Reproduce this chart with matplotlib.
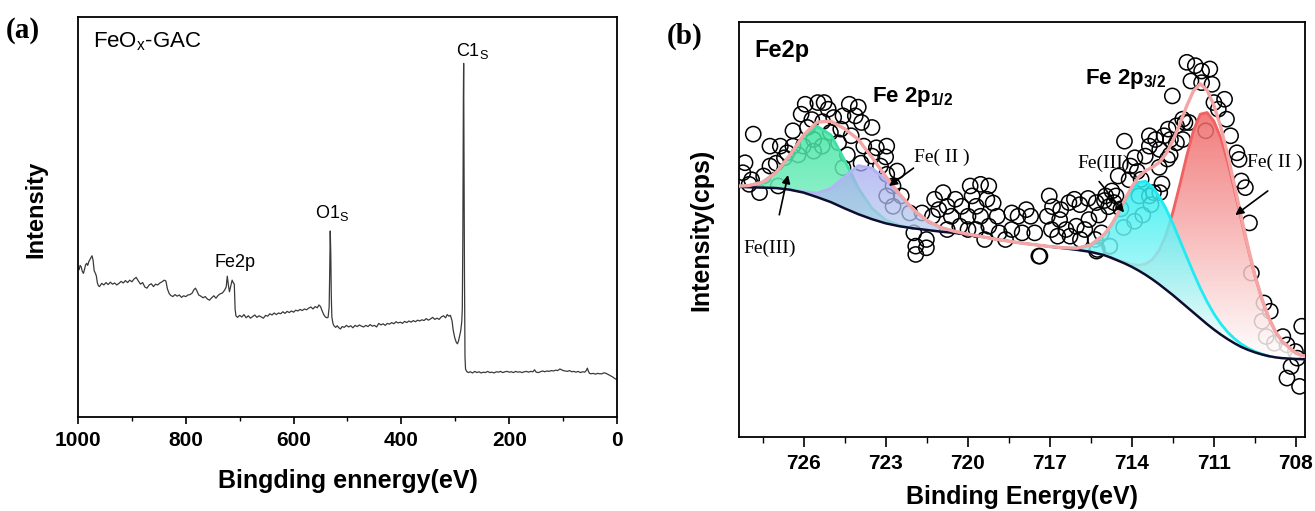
import matplotlib
matplotlib.use("Agg")
import matplotlib.pyplot as plt
import numpy as np
from matplotlib.patches import Polygon
from matplotlib.colors import to_rgb
from matplotlib.ticker import MultipleLocator

plt.rcParams['font.family'] = ['Liberation Sans', 'DejaVu Sans']
plt.rcParams['mathtext.fontset'] = 'custom'
plt.rcParams['mathtext.rm'] = 'Liberation Sans'
plt.rcParams['mathtext.bf'] = 'Liberation Sans:bold'
plt.rcParams['mathtext.it'] = 'Liberation Sans:italic'

# ---- (a) survey spectrum: binding energy (eV) / intensity (a.u.)
survey_e = [1000, 998, 996, 994, 992, 990, 988, 986, 984, 982, 980, 978, 976, 974, 972, 970, 968, 966, 964, 962, 960,
            956, 952, 948, 944, 940, 936, 932, 928, 924, 920, 916, 912, 908, 904, 900, 896, 892, 888, 884, 880, 876,
            872, 868, 864, 860, 856, 852, 848, 844, 840, 837, 834, 831, 828, 824, 820, 816, 812, 808, 804, 800, 796,
            792, 788, 785, 782, 779, 776, 772, 768, 764, 760, 756, 752, 748, 744, 740, 736, 732, 728, 725, 723, 721,
            719, 717, 714, 712, 710, 708.5, 707, 704, 700, 696, 692, 688, 684, 680, 676, 672, 668, 664, 660, 656, 652,
            648, 644, 640, 636, 632, 628, 624, 620, 616, 612, 608, 604, 600, 596, 592, 588, 584, 580, 576, 572, 568,
            564, 560, 556, 553, 550, 547, 544, 541, 538, 536, 534, 533, 532, 531, 530, 529, 527, 525, 522, 519, 516,
            513, 510, 506, 502, 498, 494, 490, 486, 482, 478, 474, 470, 466, 462, 458, 454, 450, 446, 442, 438, 434,
            430, 426, 422, 418, 414, 410, 406, 402, 398, 394, 390, 386, 382, 378, 374, 370, 366, 362, 358, 354, 350,
            346, 342, 338, 334, 330, 326, 322, 318, 315, 312, 309, 306, 304, 301, 298, 296, 294, 292, 290, 288, 287,
            286, 285, 284.5, 284, 283, 282, 281, 279, 276, 272, 268, 264, 260, 256, 252, 248, 244, 240, 236, 232, 228,
            224, 220, 216, 212, 208, 204, 200, 196, 192, 188, 184, 180, 176, 172, 168, 164, 160, 156, 153, 150, 146,
            142, 138, 134, 130, 126, 122, 118, 114, 110, 106, 103, 100, 96, 92, 88, 84, 80, 76, 72, 68, 64, 60, 57,
            55, 53, 51, 48, 44, 40, 36, 32, 28, 25, 22, 19, 16, 12, 8, 4, 0]
survey_i = [37.2, 36.8, 37.9, 37.5, 36.4, 35.9, 36.8, 38.0, 38.4, 37.9, 38.8, 39.3, 39.8, 40.3, 39.2, 36.6, 36.0, 35.3, 33.5, 32.8, 32.6,
            33.4, 33.0, 33.6, 33.1, 33.7, 33.2, 33.5, 33.0, 33.4, 33.9, 33.5, 34.1, 33.6, 34.2, 33.8, 34.5, 34.9, 34.0, 33.2, 33.6, 32.5,
            32.2, 33.0, 33.3, 32.6, 33.2, 33.0, 33.5, 33.8, 34.2, 34.0, 32.0, 30.9, 30.4, 30.1, 30.6, 30.2, 30.5, 29.9, 30.3, 30.1, 30.5,
            30.6, 31.0, 31.8, 32.2, 31.4, 30.5, 30.2, 29.8, 30.1, 29.5, 29.2, 29.8, 30.3, 29.7, 30.4, 30.8, 31.0, 31.7, 32.5, 35.2, 33.0,
            31.3, 32.5, 34.2, 33.6, 33.2, 27.0, 25.3, 24.9, 25.4, 25.0, 25.6, 24.8, 25.3, 24.7, 25.1, 25.5, 24.9, 25.3, 25.0, 24.7, 25.4,
            25.2, 25.8, 25.5, 26.0, 25.6, 26.0, 25.8, 26.3, 25.9, 26.4, 26.1, 26.5, 26.2, 26.7, 26.5, 26.9, 26.6, 27.0, 26.8, 27.2, 27.5,
            27.0, 27.6, 27.3, 28.0, 27.6, 26.5, 25.6, 25.0, 24.8, 24.9, 27.5, 36.0, 46.5, 41.0, 30.0, 25.0, 23.4, 22.8, 22.4, 22.8, 22.3,
            22.0, 22.6, 22.4, 22.9, 22.5, 22.8, 22.3, 22.9, 22.6, 23.0, 22.7, 22.5, 22.9, 22.6, 23.1, 22.7, 22.9, 22.5, 23.4, 23.0, 23.3,
            22.9, 23.4, 23.2, 23.6, 23.3, 23.8, 23.5, 23.7, 23.4, 23.9, 23.6, 24.0, 23.7, 24.1, 23.8, 24.2, 24.0, 24.3, 24.1, 24.6, 24.2,
            24.5, 24.9, 24.4, 24.7, 24.4, 25.0, 25.3, 24.8, 25.6, 25.2, 25.4, 24.0, 21.8, 19.8, 18.6, 18.3, 19.0, 20.2, 21.5, 23.8, 27.0,
            45.0, 80.0, 88.4, 72.0, 36.0, 15.0, 12.0, 11.4, 11.1, 11.3, 11.0, 11.4, 11.1, 11.3, 11.0, 11.2, 11.1, 11.4, 11.1, 11.2, 11.0,
            11.3, 11.2, 11.4, 11.1, 11.3, 11.4, 11.2, 11.3, 11.1, 11.4, 11.2, 11.3, 11.1, 11.3, 11.4, 11.2, 11.4, 11.3, 11.8, 11.2, 11.1,
            11.3, 11.5, 11.3, 11.5, 11.4, 11.6, 11.5, 11.7, 11.6, 12.0, 11.8, 11.6, 11.5, 11.4, 11.6, 11.3, 11.4, 11.2, 11.4, 11.1, 11.3, 11.2, 11.6,
            12.2, 11.4, 10.9, 10.8, 10.9, 10.7, 10.9, 10.8, 10.8, 11.0, 11.0, 10.8, 10.6, 10.3, 10.0, 9.6, 9.3]

# ---- (b) Fe 2p high-resolution: measured points
fe_e = [728.14, 728.22, 727.99, 727.61, 727.84, 727.23, 726.85, 727.23, 727.46, 726.93, 726.70, 726.39, 726.09, 725.94,
        725.48, 725.10, 725.25, 725.86, 726.39, 726.01, 725.63, 725.32, 725.63, 725.02, 724.56, 724.33, 724.64, 724.72,
        724.56, 724.11, 723.88, 724.26, 723.80, 723.50, 723.34, 722.96, 723.50, 723.19, 722.96, 722.58, 722.73, 722.96,
        722.73, 722.43, 722.12, 721.67, 721.97, 721.51, 721.90, 721.90, 721.51, 721.21, 721.06, 721.29, 720.75, 720.90,
        720.45, 720.60, 720.75, 720.29, 720.22, 719.91, 719.84, 719.53, 719.23, 719.69, 719.99, 719.30, 719.07, 719.53,
        719.99, 719.69, 719.23, 718.92, 719.38, 718.62, 718.85, 718.39, 718.16, 718.39, 718.01, 717.70, 717.86, 717.55,
        717.40, 717.09, 717.02, 716.94, 716.64, 716.71, 716.41, 716.10, 716.03, 716.26, 715.72, 715.57, 715.88, 715.34,
        715.26, 714.81, 715.11, 714.96, 714.73, 714.58, 714.50, 714.27, 713.89, 713.66, 713.36, 713.21, 712.98, 713.74,
        713.51, 713.36, 713.13, 712.98, 713.36, 712.82, 712.67, 712.59, 712.37, 712.06, 712.52, 712.14, 712.14, 711.91,
        711.84, 711.99, 711.68, 711.45, 711.45, 711.15, 711.07, 711.30, 711.00, 710.61, 710.84, 710.54, 710.39, 710.16,
        710.08, 710.00, 709.85, 709.70, 709.63, 709.17, 708.94, 709.24, 709.09, 708.79, 708.48, 708.33, 708.02, 707.95,
        707.79, 708.33, 707.87, 708.18, 715.90, 715.60, 715.30, 715.00, 714.85, 716.30, 716.60, 716.90, 715.20, 714.65,
        714.40, 714.10, 713.80, 713.00, 712.70, 712.90, 713.60, 713.90, 714.30, 713.30, 714.80, 715.29, 717.36, 727.90,
        727.00, 726.60, 726.20, 725.70, 725.30, 724.90, 724.00, 724.40, 723.90, 723.00, 714.05, 712.37, 712.60]
fe_i = [66.1, 63.7, 60.9, 58.9, 73.0, 70.1, 70.1, 65.3, 62.9, 60.5, 67.3, 73.8, 77.8, 80.2,
        80.6, 79.0, 80.6, 74.6, 70.1, 70.1, 71.7, 70.1, 68.9, 73.4, 77.4, 80.2, 74.2, 70.9,
        64.9, 77.4, 75.8, 72.6, 70.1, 74.6, 69.7, 70.1, 67.7, 65.3, 63.3, 64.1, 60.5, 58.1,
        55.6, 58.1, 54.0, 54.0, 49.2, 47.6, 46.0, 44.0, 45.6, 57.3, 54.8, 53.2, 55.6, 58.9,
        57.3, 53.2, 50.0, 50.8, 55.6, 60.5, 58.1, 60.9, 60.5, 55.6, 53.2, 57.3, 56.4, 53.2,
        50.0, 50.0, 50.8, 53.2, 47.6, 47.6, 49.2, 54.0, 53.2, 50.0, 49.2, 53.2, 54.8, 49.2,
        43.6, 53.2, 58.1, 50.0, 52.4, 48.4, 50.0, 57.3, 50.8, 48.4, 50.0, 52.4, 47.6, 47.6,
        45.2, 46.0, 49.2, 58.1, 59.3, 58.1, 62.9, 71.3, 67.3, 62.1, 58.1, 58.9, 58.9, 58.1,
        67.7, 70.1, 71.7, 69.3, 72.6, 72.6, 74.2, 71.7, 75.0, 75.8, 82.2, 76.6, 71.7, 75.8,
        85.8, 90.3, 89.5, 88.2, 85.4, 88.7, 85.0, 73.8, 80.6, 81.4, 79.0, 76.6, 72.6, 68.5,
        66.9, 61.7, 60.1, 51.6, 39.5, 32.3, 30.3, 27.9, 24.2, 22.6, 24.2, 22.2, 20.6, 19.0,
        26.7, 14.2, 12.2, 17.0, 56.0, 57.5, 56.5, 57.0, 55.5, 56.5, 54.8, 55.5, 53.5, 56.5,
        55.0, 62.0, 64.0, 65.0, 67.0, 61.0, 53.5, 52.0, 50.5, 56.0, 46.0, 44.8, 43.6, 62.0,
        66.0, 68.5, 68.0, 76.5, 76.0, 77.0, 79.5, 68.0, 66.0, 67.5, 65.3, 70.9, 68.0]

# ---- (b) fitted curves on a common energy grid
fit_e = [728.5, 728.0, 727.5, 727.0, 726.5, 726.0, 725.5, 725.0, 724.5, 724.0, 723.5, 723.0, 722.5, 722.0,
         721.5, 721.0, 720.5, 720.0, 719.5, 719.0, 718.5, 718.0, 717.5, 717.0, 716.5, 716.0, 715.5, 715.0,
         714.75, 714.5, 714.25, 714.0, 713.75, 713.5, 713.25, 713.0, 712.75, 712.5, 712.25, 712.0, 711.75,
         711.5, 711.25, 711.0, 710.75, 710.5, 710.25, 710.0, 709.75, 709.5, 709.25, 709.0, 708.75, 708.5,
         708.0, 707.5]
background = [60.3, 60.2, 60.1, 60.0, 59.6, 58.9, 57.8, 56.6, 55.1, 53.7, 52.5, 51.5, 50.8, 50.3,
              49.9, 49.5, 49.2, 48.8, 48.3, 47.7, 47.2, 46.7, 46.3, 45.9, 45.5, 45.1, 44.6, 43.8,
              43.2, 42.5, 41.8, 41.0, 40.1, 39.1, 38.0, 36.8, 35.5, 34.2, 32.8, 31.4, 30.0,
              28.6, 27.2, 25.9, 24.7, 23.6, 22.6, 21.7, 21.0, 20.4, 19.9, 19.5, 19.2, 19.0,
              18.8, 18.7]
fe3_half = [0.1, 0.4, 1.3, 3.8, 8.3, 13.7, 17.1, 16.2, 11.6, 6.3, 2.6, 0.8, 0.2, 0.0] + [0.0] * 42
fe2_half = [0.0, 0.0, 0.0, 0.0, 0.0, 0.2, 1.0, 3.3, 7.6, 11.7, 12.3, 10.5, 7.6, 4.6, 2.3, 1.0, 0.4, 0.1] + [0.0] * 38
fe3_3half = [0.0] * 24 + [0.1, 0.4, 1.7, 5.1, 7.9, 11.4, 15.2, 18.7, 21.3, 22.5, 22.2, 21.2, 19.5, 17.2, 14.7,
                          12.1, 9.6, 7.3, 5.4, 3.8, 2.6, 1.7, 1.1, 0.7, 0.4, 0.2, 0.1, 0.0, 0.0, 0.0, 0.0, 0.0]
fe2_3half = [0.0] * 29 + [0.1, 0.3, 0.6, 1.3, 2.6, 4.8, 8.2, 13.3, 20.0, 27.9, 36.2, 43.8, 49.2, 51.0,
                          50.2, 47.4, 42.8, 37.0, 30.7, 24.3, 18.4, 13.4, 9.3, 6.2, 4.0, 1.4, 0.4]


def gradient_fill(ax, x, lo, hi, top_color, bottom_color, alpha, z):
    x, lo, hi = np.asarray(x), np.asarray(lo), np.asarray(hi)
    verts = np.vstack([np.column_stack([x, hi]), np.column_stack([x[::-1], lo[::-1]])])
    clip = Polygon(verts, closed=True, fc='none', ec='none')
    ax.add_patch(clip)
    ramp = np.linspace(0, 1, 256)[:, None, None]
    top, bot = np.array(to_rgb(top_color)), np.array(to_rgb(bottom_color))
    img = bot + (top - bot) * ramp
    im = ax.imshow(img, extent=[x.min(), x.max(), lo.min(), hi.max()], origin='lower',
                   aspect='auto', zorder=z, alpha=alpha, interpolation='bilinear')
    im.set_clip_path(clip)


fig = plt.figure(figsize=(13.15, 5.11), dpi=100)

# ================= panel (a)
ax1 = fig.add_axes([0.0593, 0.184, 0.4099, 0.7828])
ax1.plot(survey_e, survey_i, color='#3a3a3a', lw=0.9)
ax1.set_xlim(1000, 0)
ax1.set_ylim(0, 100)
ax1.set_yticks([])
ax1.xaxis.set_major_locator(MultipleLocator(200))
ax1.xaxis.set_minor_locator(MultipleLocator(100))
ax1.tick_params(axis='x', which='major', direction='out', length=5, width=1.2, pad=5,
                labelsize=15, top=False)
ax1.tick_params(axis='x', which='minor', direction='out', length=3, width=1.0, top=False)
for lab in ax1.get_xticklabels():
    lab.set_fontweight('bold')
for sp in ax1.spines.values():
    sp.set_linewidth(1.3)
ax1.set_xlabel('Bingding ennergy(eV)', fontsize=18, fontweight='bold')
ax1.xaxis.set_label_coords(0.5, -0.13)
ax1.set_ylabel('Intensity', fontsize=17, fontweight='bold')
ax1.yaxis.set_label_coords(-0.056, 0.52)

ax1.text(972, 93.7, r'FeO$_{\mathregular{x}}$-GAC', fontsize=16, va='center', ha='left')
ax1.text(746, 38.5, 'Fe2p', fontsize=13, va='center', ha='left')
ax1.text(529, 51, r'O1$_{\mathregular{S}}$', fontsize=13, va='center', ha='center')
ax1.text(268, 91.5, r'C1$_{\mathregular{S}}$', fontsize=13, va='center', ha='center')

# ================= panel (b)
ax2 = fig.add_axes([0.562, 0.1448, 0.4304, 0.812])
ax2.scatter(fe_e, fe_i, s=120, facecolors='none', edgecolors='black', linewidths=1.1, zorder=2)

fe = np.asarray(fit_e)
bg = np.asarray(background)
c_g, c_p, c_c, c_r = (np.asarray(v) for v in (fe3_half, fe2_half, fe3_3half, fe2_3half))
envelope = bg + c_g + c_p + c_c + c_r

comps = [
    (c_g, '#3fe6a0', '#8ff0cc', '#3fe0a8', 0.85, 3.0),
    (c_p, '#a8aaf2', '#b9d2ee', '#b0b4f4', 0.75, 3.3),
    (c_r, '#f06464', '#ffffff', '#f26060', 0.85, 3.0),
    (c_c, '#28eef0', '#ffffff', '#20eaf2', 0.85, 3.3),
]
for comp, top_c, bot_c, line_c, a, z in comps:
    idx = np.where(comp > 0)[0]
    sl = slice(max(idx[0] - 1, 0), min(idx[-1] + 2, len(fe)))
    gradient_fill(ax2, fe[sl], bg[sl], bg[sl] + comp[sl], top_c, bot_c, a, z)
    ax2.plot(fe[sl], bg[sl] + comp[sl], color=line_c, lw=2.0, zorder=z + 0.1)

ax2.plot(fe, bg, color='#0d0d2e', lw=1.8, zorder=5)
ax2.plot(fe, envelope, color='#f4a6a6', lw=2.4, zorder=6)

ax2.set_xlim(728.36, 707.67)
ax2.set_ylim(0, 100)
ax2.set_yticks([])
ax2.xaxis.set_major_locator(MultipleLocator(3))
ax2.xaxis.set_minor_locator(MultipleLocator(1.5))
ax2.tick_params(axis='x', which='major', direction='out', length=7, width=1.2, pad=5,
                labelsize=15, top=False)
ax2.tick_params(axis='x', which='minor', direction='out', length=4, width=1.0, top=False)
for lab in ax2.get_xticklabels():
    lab.set_fontweight('bold')
for sp in ax2.spines.values():
    sp.set_linewidth(1.3)
ax2.set_xlabel('Binding Energy(eV)', fontsize=18, fontweight='bold')
ax2.xaxis.set_label_coords(0.5, -0.115)
ax2.set_ylabel('Intensity(cps)', fontsize=18, fontweight='bold')
ax2.yaxis.set_label_coords(-0.045, 0.5)

ax2.text(727.8, 93.2, 'Fe2p', fontsize=17, fontweight='bold', va='center', ha='left')
ax2.text(723.5, 81.9, r'Fe 2p$_{\mathbf{1/2}}$', fontsize=16, fontweight='bold', va='center', ha='left')
ax2.text(715.7, 86.2, r'Fe 2p$_{\mathbf{3/2}}$', fontsize=16, fontweight='bold', va='center', ha='left')

serif = ['Liberation Serif', 'DejaVu Serif']
ax2.text(721.95, 67.5, 'Fe( II )', family=serif, fontsize=14, va='center', ha='left', zorder=8)
ax2.text(728.2, 45.5, 'Fe(III)', family=serif, fontsize=14, va='center', ha='left', zorder=8)
ax2.text(716.0, 66.0, 'Fe(III)', family=serif, fontsize=14, va='center', ha='left', zorder=8)
ax2.text(709.8, 66.2, 'Fe( II )', family=serif, fontsize=14, va='center', ha='left', zorder=8)

arrow = dict(arrowstyle='-|>', color='black', lw=1.2, mutation_scale=12)
ax2.annotate('', xy=(722.96, 60.1), xytext=(721.9, 65.2), arrowprops=arrow, zorder=8)
ax2.annotate('', xy=(726.55, 63.8), xytext=(726.91, 52.9), arrowprops=arrow, zorder=8)
ax2.annotate('', xy=(714.22, 53.6), xytext=(715.26, 62.1), arrowprops=arrow, zorder=8)
ax2.annotate('', xy=(710.3, 53.1), xytext=(708.95, 59.7), arrowprops=arrow, zorder=8)

fig.text(0.004, 0.941, '(a)', family=serif, fontsize=21, fontweight='bold', va='center', ha='left')
fig.text(0.507, 0.928, '(b)', family=serif, fontsize=21, fontweight='bold', va='center', ha='left')

fig.savefig('out.png', dpi=100)
